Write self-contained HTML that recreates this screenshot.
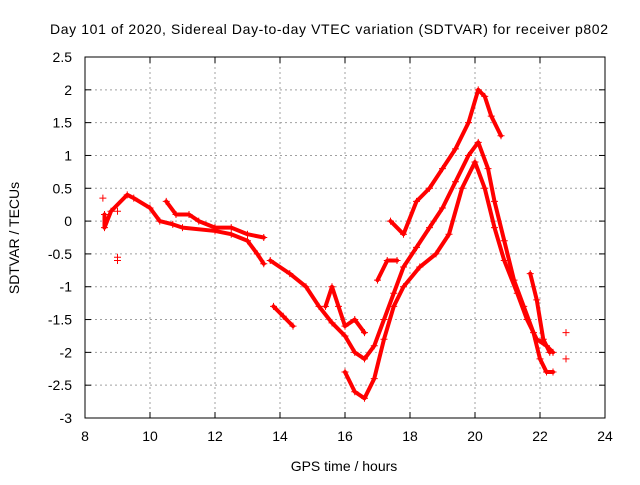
<!DOCTYPE html>
<html><head><meta charset="utf-8"><style>
body{margin:0;background:#fff;font-family:"Liberation Sans",sans-serif}
svg text{font-family:"Liberation Sans",sans-serif;font-size:14px;fill:#000}
</style></head><body>
<svg id="chart" width="640" height="480" xmlns="http://www.w3.org/2000/svg">
<text x="50" y="34" textLength="558" lengthAdjust="spacing">Day 101 of 2020, Sidereal Day-to-day VTEC variation (SDTVAR) for receiver p802</text>
<text x="344" y="471" text-anchor="middle">GPS time / hours</text>
<text transform="translate(19,238) rotate(-90)" text-anchor="middle">SDTVAR / TECUs</text>
<g id="grid"></g><g id="ticks"></g><g id="marks"></g>
<rect x="85" y="57" width="520" height="361" fill="none" stroke="#000"/>
</svg>
<script>
const xTicks=[8,10,12,14,16,18,20,22,24];
const yTicks=[2.5,2,1.5,1,0.5,0,-0.5,-1,-1.5,-2,-2.5,-3];
const traceA=[[8.6,0.1],[8.6,-0.1],[8.8,0.15],[9.3,0.4],[9.5,0.35],[10,0.2],[10.3,0.0],[10.7,-0.05],[11,-0.1],[12,-0.15],[12.5,-0.2],[13,-0.3],[13.3,-0.5],[13.5,-0.65]];
const traceB=[[10.5,0.3],[10.8,0.1],[11.2,0.1],[11.5,0.0],[12,-0.1],[12.5,-0.1],[13,-0.2],[13.5,-0.25]];
const traceC=[[13.7,-0.6],[14.3,-0.8],[14.8,-1.0],[15.2,-1.3],[15.6,-1.55],[16,-1.75],[16.3,-2.0],[16.6,-2.1],[16.9,-1.9],[17.2,-1.5],[17.5,-1.1],[17.8,-0.7],[18.2,-0.4],[18.6,-0.1],[19,0.2],[19.4,0.6],[19.8,1.0],[20.1,1.2],[20.4,0.8],[20.6,0.3],[20.9,-0.3],[21.2,-0.9],[21.5,-1.3],[21.8,-1.7],[22.0,-2.1],[22.2,-2.3],[22.4,-2.3]];
const traceD=[[16.0,-2.3],[16.3,-2.6],[16.6,-2.7],[16.9,-2.4],[17.2,-1.8],[17.5,-1.3],[17.8,-1.0],[18.3,-0.7],[18.8,-0.5],[19.2,-0.2],[19.6,0.5],[20.0,0.9],[20.3,0.5],[20.6,-0.1],[20.9,-0.6],[21.3,-1.1],[21.6,-1.5],[21.9,-1.8],[22.2,-1.9],[22.4,-2.0]];
const traceE=[[17.4,0.0],[17.8,-0.2],[18.2,0.3],[18.6,0.5],[19.0,0.8],[19.4,1.1],[19.8,1.5],[20.1,2.0],[20.3,1.9],[20.5,1.6],[20.8,1.3]];
const traceF=[[13.8,-1.3],[14.1,-1.45],[14.4,-1.6]];
const traceG=[[15.4,-1.3],[15.6,-1.0],[15.8,-1.3],[16.0,-1.6],[16.3,-1.5],[16.6,-1.7]];
const traceH=[[21.7,-0.8],[21.9,-1.2],[22.1,-1.8],[22.3,-2.0]];
const traceI=[[17.0,-0.9],[17.3,-0.6],[17.6,-0.6]];
const isolated=[[9.0,-0.6],[9.0,-0.55],[9.0,0.15],[8.55,0.35],[22.8,-1.7],[22.8,-2.1]];
const traces=[traceA,traceB,traceC,traceD,traceE,traceF,traceG,traceH,traceI];
const NS="http://www.w3.org/2000/svg";
const X=v=>85+(v-8)*520/16;
const Y=v=>57+(2.5-v)*361/5.5;
function mk(t,a,p){const e=document.createElementNS(NS,t);for(const k in a)e.setAttribute(k,a[k]);p.appendChild(e);return e;}
const grid=document.getElementById('grid'),ticks=document.getElementById('ticks'),marks=document.getElementById('marks');
xTicks.forEach(v=>{const x=X(v);
 if(v>8&&v<24){const l=mk('line',{x1:x,x2:x,y1:57,y2:418,stroke:'#a0a0a0','stroke-dasharray':'2,3'},grid);
 
 }
 mk('line',{x1:x,x2:x,y1:418,y2:412,stroke:'#000'},ticks);mk('line',{x1:x,x2:x,y1:57,y2:63,stroke:'#000'},ticks);
 const t=mk('text',{x:x,y:441,'text-anchor':'middle'},ticks);t.textContent=v;
 
 });
yTicks.forEach(v=>{const y=Y(v);
 if(v<2.5&&v>-3){const l=mk('line',{x1:85,x2:605,y1:y,y2:y,stroke:'#a0a0a0','stroke-dasharray':'2,3'},grid);
 
 }
 mk('line',{x1:85,x2:91,y1:y,y2:y,stroke:'#000'},ticks);mk('line',{x1:605,x2:599,y1:y,y2:y,stroke:'#000'},ticks);
 const t=mk('text',{x:72,y:y+5,'text-anchor':'end'},ticks);t.textContent=v;
 
 });
function plus(p){const x=X(p[0]),y=Y(p[1]);
 const g=mk('path',{d:`M${x-3.5},${y}h7M${x},${y-3.5}v7`,stroke:'#f00','stroke-width':1},marks);
 
 }
traces.forEach(tr=>{
 const pl=mk('polyline',{points:tr.map(p=>X(p[0])+','+Y(p[1])).join(' '),fill:'none',stroke:'#f00','stroke-width':4,'stroke-linejoin':'round','stroke-linecap':'round'},marks);
 
 
 tr.forEach(plus);});
isolated.forEach(plus);
</script>
</body></html>
